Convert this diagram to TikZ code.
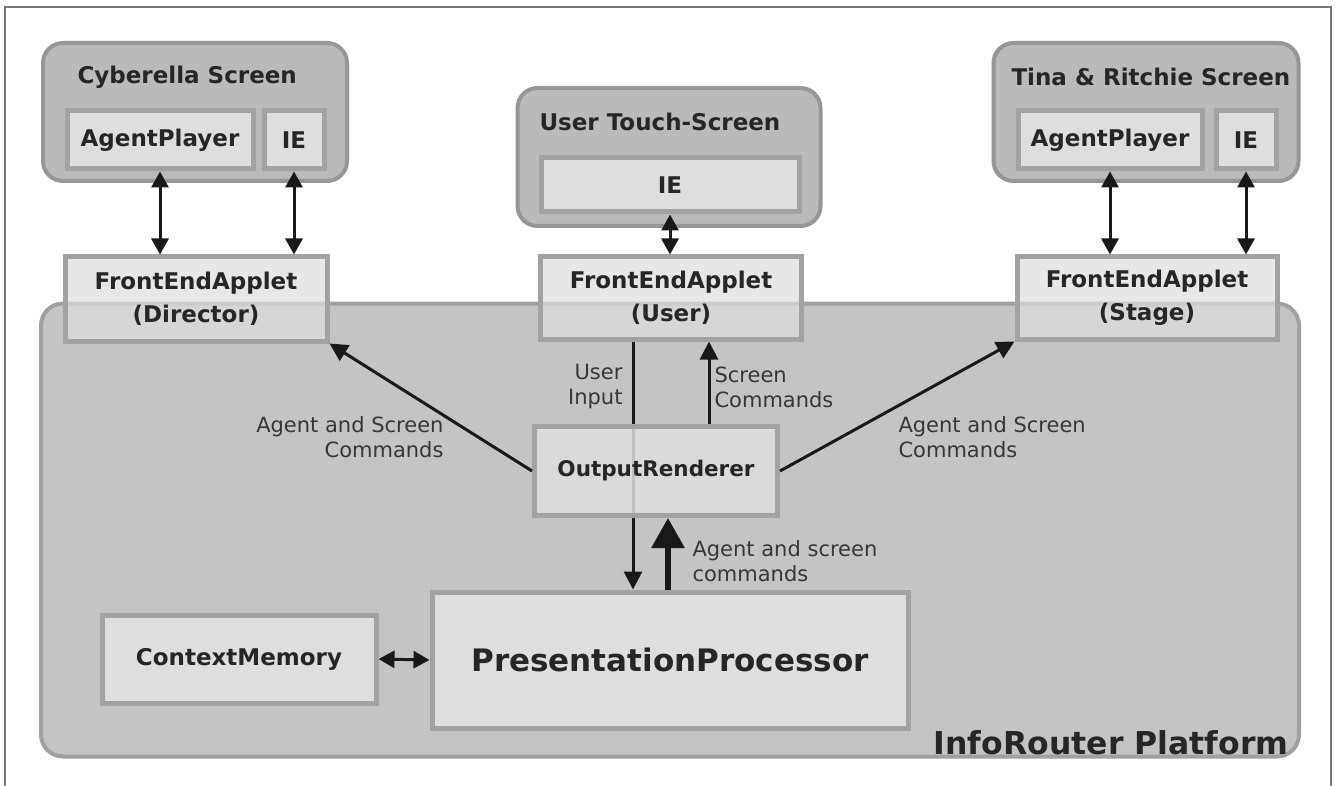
\documentclass[tikz,border=0pt]{standalone}
\usepackage{fontspec}
\setmainfont{DejaVu Sans}
\usetikzlibrary{arrows.meta}

\definecolor{platfill}{RGB}{196,196,196}
\definecolor{platline}{RGB}{160,160,160}
\definecolor{scrfill}{RGB}{186,186,186}
\definecolor{scrline}{RGB}{150,150,150}
\definecolor{partfill}{RGB}{222,222,222}
\definecolor{partline}{RGB}{162,162,162}
\definecolor{lbltext}{RGB}{55,55,55}
\definecolor{framecol}{RGB}{120,120,120}

\tikzset{
  screen/.style={draw=scrline, fill=scrfill, line width=4pt, rounded corners=20pt},
  part/.style={draw=partline, fill=partfill, line width=5pt, align=center,
    font=\bfseries\fontsize{23}{33}\selectfont, text=black!85},
  applet/.style={part, fill opacity=0.7, text opacity=1},
  title/.style={anchor=west, font=\bfseries\fontsize{23}{27}\selectfont, text=black!85},
  lbl/.style={font=\fontsize{21}{25}\selectfont, text=lbltext},
  arr/.style={{Triangle[length=16pt,width=17pt]}-{Triangle[length=16pt,width=17pt]}, line width=3pt, black!90},
  onearr/.style={-{Triangle[length=18pt,width=18pt]}, line width=3pt, black!90},
  bigarr/.style={-{Triangle[length=30pt,width=32pt]}, line width=6pt, black!90}
}

\begin{document}
\begin{tikzpicture}[x=1pt, y=-1pt]
  \useasboundingbox (0,0) rectangle (1338,786);
  \fill[white] (0,0) rectangle (1338,786);
  \draw[framecol, line width=2pt] (5,786) -- (5,7) -- (1331,7) -- (1331,786);

  % platform
  \node[draw=platline, fill=platfill, line width=4pt, rounded corners=22pt,
    minimum width=1258pt, minimum height=453pt] (plat) at (670,530) {};
  \node[anchor=south east, font=\bfseries\fontsize{31.5}{36}\selectfont, text=black!85]
    (platname) at (1292,758) {InfoRouter Platform};

  % screens
  \node[screen, minimum width=304pt, minimum height=138pt] (cyb) at (195,112) {};
  \node[title] (cybname) at (74,77) {Cyberella Screen};
  \node[part, minimum width=186pt, minimum height=58pt] (cybap) at (160,140) {AgentPlayer};
  \node[part, minimum width=60pt, minimum height=58pt] (cybie) at (294,140) {IE};

  \node[screen, minimum width=303pt, minimum height=138pt] (usr) at (669,157) {};
  \node[title] (usrname) at (536,122) {User Touch-Screen};
  \node[part, minimum width=258pt, minimum height=54pt] (usrie) at (670,185) {IE};

  \node[screen, minimum width=305pt, minimum height=138pt] (tina) at (1146,112) {};
  \node[title] (tinaname) at (1008,77) {Tina \& Ritchie Screen};
  \node[part, minimum width=184pt, minimum height=58pt] (tinaap) at (1110,140) {AgentPlayer};
  \node[part, minimum width=60pt, minimum height=58pt] (tinaie) at (1246,140) {IE};

  % front end applets
  \node[applet, minimum width=262pt, minimum height=84pt] (dir) at (196,299) {FrontEndApplet\\(Director)};
  \node[applet, minimum width=261pt, minimum height=82pt] (uapp) at (671,298) {FrontEndApplet\\(User)};
  \node[applet, minimum width=260pt, minimum height=82pt] (stage) at (1147,298) {FrontEndApplet\\(Stage)};

  \draw[arr] (cybap.south) -- (cybap.south |- dir.north);
  \draw[arr] (cybie.south) -- (cybie.south |- dir.north);
  \draw[arr] (usrie.south) -- (usrie.south |- uapp.north);
  \draw[arr] (tinaap.south) -- (tinaap.south |- stage.north);
  \draw[arr] (tinaie.south) -- (tinaie.south |- stage.north);

  % inner boxes
  \node[part, minimum width=476pt, minimum height=136pt,
    font=\bfseries\fontsize{31}{36}\selectfont] (pp) at (670,660) {PresentationProcessor};
  \node[part, minimum width=274pt, minimum height=88pt] (cm) at (239,659) {ContextMemory};

  \coordinate (inx) at (633,0);
  \coordinate (scx) at (709,0);
  \coordinate (agx) at (668,0);
  \draw[onearr] (uapp.south -| inx) -- (pp.north -| inx);

  \node[part, fill opacity=0.85, text opacity=1, minimum width=243pt, minimum height=89pt,
    font=\bfseries\fontsize{21.5}{26}\selectfont] (out) at (656,471) {OutputRenderer};

  \draw[onearr] (out.north -| scx) -- (uapp.south -| scx);
  \draw[bigarr] (pp.north -| agx) -- (out.south -| agx);
  \draw[onearr] (out.west) -- (dir.south east);
  \draw[onearr] (out.east) -- (stage.south west);
  \draw[arr] (cm.east) -- (pp.west);

  % labels
  \node[lbl, anchor=east, align=right] (lblin) at (626,387) {User\\Input};
  \node[lbl, anchor=west, align=left] (lblsc) at (711,387) {Screen\\Commands};
  \node[lbl, anchor=east, align=right] (lbldir) at (447,437) {Agent and Screen\\Commands};
  \node[lbl, anchor=west, align=left] (lblstage) at (895,437) {Agent and Screen\\Commands};
  \node[lbl, anchor=west, align=left] (lblpp) at (689,561) {Agent and screen\\commands};
\end{tikzpicture}
\end{document}
